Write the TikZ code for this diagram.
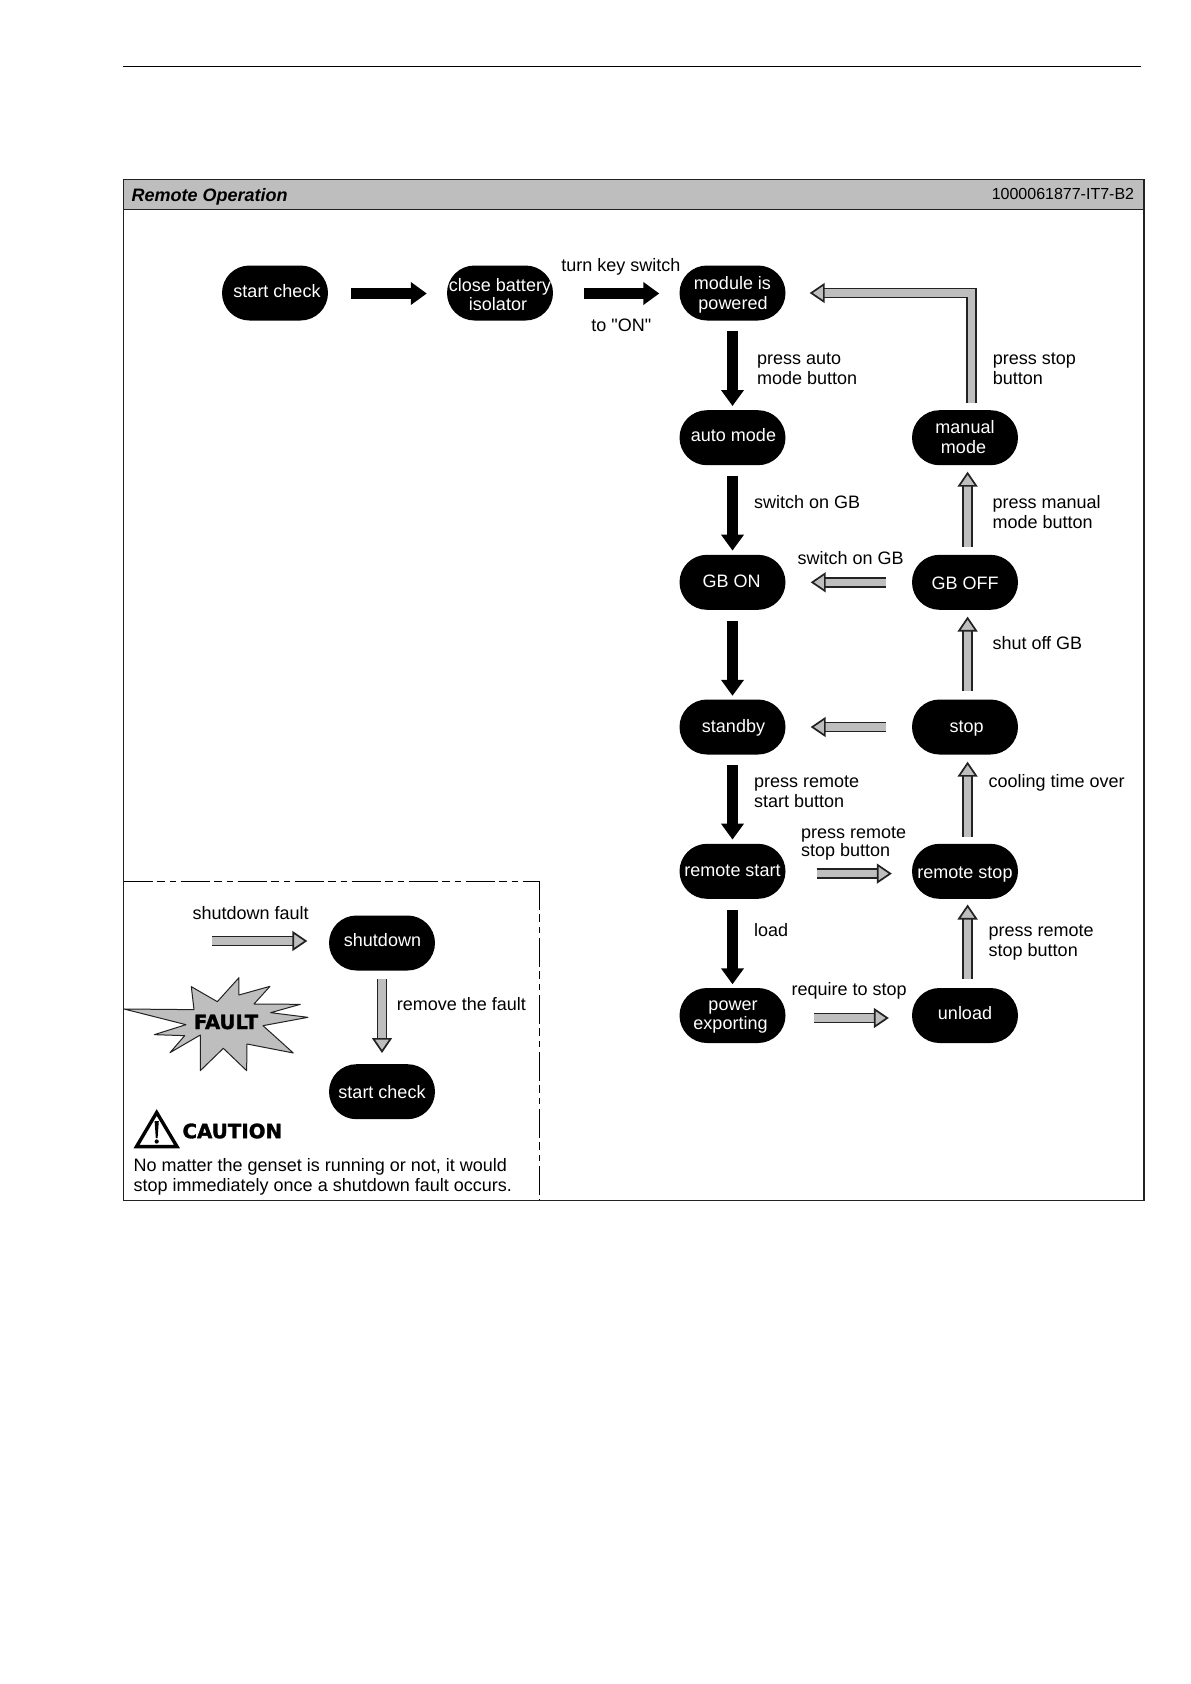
\documentclass[tikz,border=0pt]{standalone}
\usepackage{fontspec}
\setmainfont{Liberation Sans}
\newfontfamily\rawfont{Liberation Sans}
\newfontfamily\heavyfont[BoldFeatures={FakeBold=1.6}]{DejaVu Sans}
\usetikzlibrary{shapes.misc,arrows.meta}
\definecolor{hdr}{HTML}{BEBEBE}
\definecolor{lin}{HTML}{222222}
% one line of state text: shift right (dx, as twice its value), baseline raised by dy; takes no room
\newcommand\stxt[3]{\raisebox{#2}[0pt][0pt]{\makebox[0pt]{\hspace*{#1}#3}}}
\tikzset{
  state/.style={rounded rectangle,fill=black,text=white,minimum width=106pt,minimum height=55pt,inner sep=0pt,align=center,font=\fontsize{18}{19.7}\selectfont},
  lab/.style={anchor=west,inner sep=0pt,align=left,font=\fontsize{18}{19.7}\selectfont},
  labc/.style={inner sep=0pt,align=center,font=\fontsize{18}{19.7}\selectfont},
  blackarrow/.style={draw=black,line width=10.5pt,-{Triangle[length=16pt,width=22pt]}},
  greyarrow/.style={draw=lin,line width=1.7pt,double=hdr,double distance=7.4pt,-{Triangle[length=15pt,width=20pt,line width=1.7pt,fill=hdr,color=lin]}},
  frameline/.style={draw=lin,line width=1.2pt},
  dashline/.style={draw=black,line width=1.1pt,dash pattern=on 29pt off 4pt on 8pt off 5pt on 6pt off 5pt},
}
\begin{document}
\begin{tikzpicture}[x=1pt,y=-1pt]
\useasboundingbox[fill=white] (0,0) rectangle (1191,1684);
% page rule and frame
\draw[draw=black,line width=1.9pt] (123,66.5) -- (1141,66.5);
\draw[frameline,fill=hdr] (123.5,179.5) rectangle (1144,209.3);
\draw[frameline] (123.5,209.3) rectangle (1144,1200.3);
\node[anchor=west,inner sep=0pt,font=\fontsize{18}{20}\selectfont\bfseries\itshape] (title) at (131.5,197) {Remote Operation};
\node[anchor=east,inner sep=0pt,font=\fontsize{16}{18}\selectfont] (code) at (1134.3,193.5) {1000061877-IT7-B2};
% dashed inset
\draw[dashline] (123.5,881.3) -- (539.3,881.3);
\draw[dashline] (539.3,881.3) -- (539.3,1200.3);
% states
\node[state] (start)  at (275,293)    {\stxt{4pt}{-4.4pt}{start check}};
\node[state] (close)  at (500,293)    {\stxt{0pt}{-8pt}{close battery}\\\stxt{-4pt}{-8pt}{isolator}};
\node[state] (module) at (732.5,293)  {\stxt{0pt}{-6.2pt}{module is}\\\stxt{1pt}{-6.2pt}{powered}};
\node[state] (auto)   at (732.5,437.7){\stxt{2pt}{-3.3pt}{auto mode}};
\node[state] (manual) at (965,437.7)  {\stxt{0pt}{-5.7pt}{manual}\\\stxt{-3pt}{-5.7pt}{mode}};
\node[state] (gbon)   at (732.5,582.3){\stxt{-2pt}{-5pt}{GB ON}};
\node[state] (gboff)  at (965,582.3)  {\stxt{0pt}{-7.5pt}{GB OFF}};
\node[state] (standby)at (732.5,727)  {\stxt{2pt}{-5.7pt}{standby}};
\node[state] (stop)   at (965,727)    {\stxt{3pt}{-5.8pt}{stop}};
\node[state] (rstart) at (732.5,871.3){\stxt{0pt}{-5.4pt}{remote start}};
\node[state] (rstop)  at (965,871.3)  {\stxt{0pt}{-6.8pt}{remote stop}};
\node[state] (power)  at (732.5,1015.5){\stxt{1pt}{-4.6pt}{power}\\\stxt{-4pt}{-4.6pt}{exporting}};
\node[state] (unload) at (965,1015.5) {\stxt{0pt}{-4.4pt}{unload}};
\node[state] (shut)   at (382,943)    {\stxt{1pt}{-3.4pt}{shutdown}};
\node[state] (check)  at (382,1091.7) {\stxt{0pt}{-6.5pt}{start check}};
% black arrows
\draw[blackarrow] ([xshift=23pt,yshift=-.5pt]start.east) -- ([xshift=-20pt,yshift=-.5pt]close.west);
\draw[blackarrow] ([xshift=31pt,yshift=-.5pt]close.east) -- ([xshift=-20pt,yshift=-.5pt]module.west);
\draw[blackarrow] ([yshift=-10.5pt]module.south) -- ([yshift=4pt]auto.north);
\draw[blackarrow] ([yshift=-10.5pt]auto.south) -- ([yshift=4pt]gbon.north);
\draw[blackarrow] ([yshift=-11pt]gbon.south) -- ([yshift=3.5pt]standby.north);
\draw[blackarrow] ([yshift=-10.5pt]standby.south) -- ([yshift=4pt]rstart.north);
\draw[blackarrow] ([yshift=-11pt]rstart.south) -- ([yshift=3.5pt]power.north);
% grey arrows
\draw[greyarrow] ([xshift=2.6pt,yshift=8pt]gboff.north) -- ([xshift=2.6pt,yshift=-6.3pt]manual.south);
\draw[greyarrow] ([xshift=2.6pt,yshift=8pt]stop.north) -- ([xshift=2.6pt,yshift=-6.6pt]gboff.south);
\draw[greyarrow] ([xshift=2.6pt,yshift=7pt]rstop.north) -- ([xshift=2.6pt,yshift=-7pt]stop.south);
\draw[greyarrow] ([xshift=2.6pt,yshift=8.6pt]unload.north) -- ([xshift=2.6pt,yshift=-5.5pt]rstop.south);
\draw[greyarrow] ([xshift=-26pt]gboff.west) -- ([xshift=25pt]gbon.east);
\draw[greyarrow] ([xshift=-26pt]stop.west) -- ([xshift=25pt]standby.east);
\draw[greyarrow] ([xshift=31pt,yshift=-2.3pt]rstart.east) -- ([xshift=-20pt,yshift=-2.3pt]rstop.west);
\draw[greyarrow] ([xshift=28pt,yshift=-2.5pt]power.east) -- ([xshift=-23pt,yshift=-2.5pt]unload.west);
\draw[greyarrow] ([xshift=6.3pt,yshift=6.7pt]manual.north) |- ([xshift=24pt]module.east);
\coordinate (faultfrom) at (212,941);
\draw[greyarrow] (faultfrom) -- ([xshift=-21.5pt,yshift=2pt]shut.west);
\draw[greyarrow] ([yshift=-8.5pt]shut.south) -- ([yshift=11pt]check.north);
% labels
\node[labc] (l1) at (621,267) {turn key switch};
\node[labc] (l2) at (621.3,325.5) {to {\rawfont"ON"}};
\node[lab] (l3) at (757,368.5) {press auto\\mode button};
\node[lab] (l4) at (992.7,368.5) {press stop\\button};
\node[lab] (l5) at (754,502.5) {switch on GB};
\node[lab] (l6) at (992.3,512.3) {press manual\\mode button};
\node[lab] (l7) at (797.4,558) {switch on GB};
\node[lab] (l8) at (992.3,643) {shut off GB};
\node[lab] (l9) at (754,792) {press remote\\start button};
\node[lab] (l10) at (988.5,782.5) {cooling time over};
\node[lab] (l11) at (801,843.5) {press remote\\[-1pt]stop button};
\node[lab] (l12) at (754,930) {load};
\node[lab] (l13) at (988.5,942.7) {press remote\\stop button};
\node[lab] (l14) at (791.5,991) {require to stop};
\node[lab] (l15) at (192.3,912.7) {shutdown fault};
\node[lab] (l16) at (396.7,1004) {remove the fault};
% fault burst
\begin{scope}[shift={(110,860)},x=.3333pt,y=-.3333pt]
\draw[draw=lin,line width=1pt,line join=round,fill=hdr] (42,447) -- (252,449) -- (244,380) -- (322,425) -- (387,353) -- (387,405) -- (480,379) -- (432,432) -- (571,433) -- (482,458) -- (594,472) -- (459,497) -- (550,579) -- (411,552) -- (410,632) -- (340,565) -- (271,632) -- (271,525) -- (180,578) -- (224,527) -- (133,524) -- (228,494) -- cycle;
\end{scope}
\node[inner sep=0pt,font=\heavyfont\fontsize{19.6}{21}\selectfont\bfseries] (fault) at (226,1022) {FAULT};
% caution
\draw[draw=black,line width=3.4pt,line join=miter,fill=white] (156.7,1112.5) -- (136.5,1146.6) -- (177,1146.6) -- cycle;
\fill[black] (154.6,1121) -- (158.8,1121) -- (157.6,1138) -- (155.8,1138) -- cycle;
\fill[black] (156.7,1141.5) circle (2.1pt);
\node[anchor=west,inner sep=0pt,font=\heavyfont\fontsize{19.8}{21}\selectfont\bfseries] (caution) at (182.3,1131) {CAUTION};
\node[lab] (note) at (133.5,1176.5) {No matter the genset is running or not, it would\\stop immediately once a shutdown fault occurs.};
\end{tikzpicture}
\end{document}
